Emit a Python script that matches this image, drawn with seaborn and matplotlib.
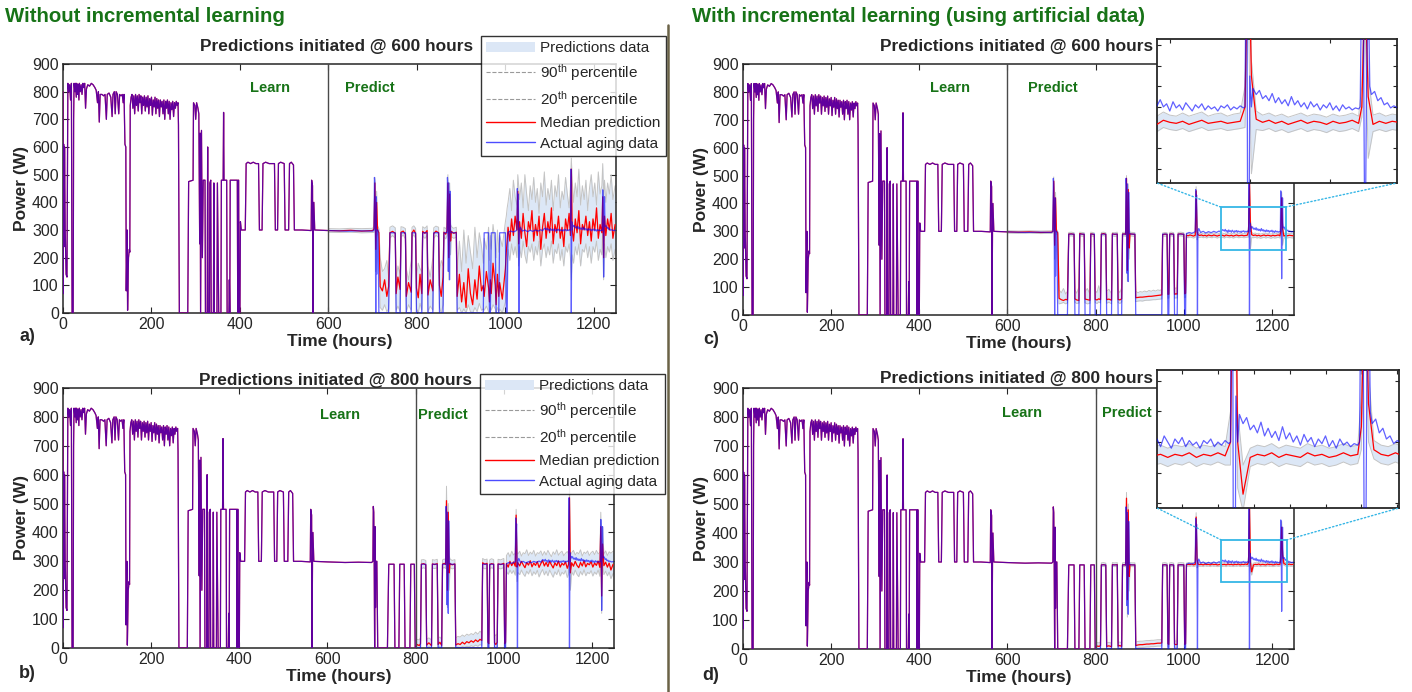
import numpy as np
import matplotlib
matplotlib.use("Agg")
import matplotlib.pyplot as plt
import seaborn as sns
from matplotlib.lines import Line2D
from matplotlib.patches import Patch, Rectangle, ConnectionPatch

# ---------------- data ----------------
# actual aging data: (hours, power W)
actual_points = [
    (0, 800), (0.5, 70), (1.5, 610), (2.5, 240), (3.5, 600), (5, 300), (7, 140), (9, 130),
    (11, 830), (13, 800), (15, 825), (17, 770), (19, 830), (20.5, 0), (23, 0), (24, 700), (25, 830),
    (27, 800), (28, 830), (30, 780), (31, 830), (33, 790), (34, 825), (36, 770), (37, 830),
    (39, 800), (41, 825), (43, 790), (45, 830), (47, 815), (49, 830), (51, 740), (53, 810),
    (56, 825), (60, 820), (64, 830), (68, 825), (72, 815), (75, 805), (78, 760), (80, 800),
    (82, 690), (84, 790), (88, 790), (92, 785), (95, 790), (98, 700), (100, 790), (104, 795),
    (108, 780), (111, 710), (113, 790), (116, 800), (118, 720), (120, 800), (123, 790),
    (126, 720), (128, 790), (131, 785), (134, 790), (136, 760), (138, 790), (140, 610),
    (142, 600), (143, 80), (145, 300), (146, 10), (148, 200), (150, 230), (151, 220),
    (152, 750), (154, 780),
    (156, 790), (158, 740), (160, 785), (162, 720), (164, 790), (166, 750), (168, 785),
    (170, 730), (172, 790), (174, 760), (176, 785), (178, 720), (180, 780), (182, 750),
    (184, 785), (186, 730), (188, 780), (190, 745), (192, 785), (194, 720), (196, 775),
    (198, 750), (200, 780), (202, 715), (204, 770), (206, 745), (208, 780), (210, 720),
    (212, 775), (214, 740), (216, 770), (218, 710), (220, 770), (222, 745), (224, 765),
    (226, 720), (228, 770), (230, 700), (232, 765), (234, 740), (236, 770), (238, 720),
    (240, 765), (242, 700), (244, 760), (246, 735), (248, 765), (250, 710), (252, 760),
    (254, 740), (256, 765), (258, 750), (260, 760), (261, 680), (263, 0), (282, 0),
    (284, 475), (294, 480), (295, 760), (298, 750), (300, 700), (302, 760), (305, 740),
    (307, 720), (309, 250), (310, 650), (311, 0), (313, 660), (315, 200), (317, 480),
    (321, 480), (322, 0), (326, 0), (327, 600), (328, 0), (331, 0), (332, 470), (334, 480),
    (335, 0), (340, 0), (341, 470), (342, 0), (348, 0), (349, 470), (352, 0), (357, 0),
    (358, 480), (362, 480), (363, 725), (364, 480), (370, 480), (371, 0), (375, 0),
    (376, 120), (377, 0), (378, 480), (388, 480), (394, 480), (395, 0), (396, 480),
    (397, 480), (398, 0), (400, 0), (401, 330), (403, 300),
    (412, 300), (414, 540), (418, 545), (424, 540), (430, 545), (436, 540), (442, 540),
    (444, 300), (450, 300), (452, 540), (458, 545), (466, 540), (478, 540), (480, 300),
    (485, 300), (487, 540), (492, 545), (500, 540), (502, 300), (510, 300), (512, 540),
    (516, 545), (521, 535), (523, 300), (540, 300), (561, 298), (562, 480), (564, 460),
    (565, 0), (566, 300), (567, 400), (569, 300), (585, 299), (600, 298),
    (640, 296), (670, 297), (700, 296), (703, 300), (704, 490), (705, 470), (706, 300),
    (707, 0), (708, 420), (709, 140), (710, 300), (712, 300), (714, 0), (736, 0),
    (739, 290), (751, 290), (753, 0), (762, 0), (764, 290), (774, 290), (776, 0), (787, 0),
    (789, 290), (797, 290), (799, 0), (811, 0), (813, 290), (823, 290), (825, 0), (836, 0),
    (838, 290), (849, 290), (851, 0), (859, 0), (861, 290), (868, 290), (869, 490),
    (870, 460), (871, 150), (872, 470), (873, 300), (874, 120), (875, 440), (876, 300),
    (878, 290), (889, 290), (891, 0), (950, 0), (952, 290), (962, 290), (964, 0), (966, 0),
    (968, 290), (977, 290), (979, 0), (985, 0), (987, 290), (1000, 290), (1002, 0),
    (1004, 0), (1006, 292), (1012, 296), (1018, 293), (1024, 297), (1026, 300),
    (1027, 450), (1028, 380), (1029, 430), (1030, 300), (1031, 0), (1032, 300),
    (1034, 310), (1038, 296), (1044, 300), (1050, 294), (1056, 299), (1062, 295),
    (1068, 300), (1074, 296), (1080, 301), (1084, 297),
    (1088, 306), (1090, 304), (1092, 301), (1094, 307), (1096, 300), (1098, 303),
    (1100, 296), (1102, 305), (1104, 299), (1106, 302), (1108, 297), (1110, 304),
    (1112, 300), (1114, 296), (1116, 302), (1118, 299), (1120, 303), (1122, 297),
    (1124, 301), (1126, 298), (1128, 300), (1130, 296), (1132, 301), (1134, 299),
    (1136, 302), (1138, 297), (1140, 300), (1142, 298), (1144, 301), (1146, 299),
    (1147, 300), (1148, 520), (1149, 0), (1150, 330), (1151, 300), (1152, 318),
    (1154, 312), (1156, 316), (1158, 308), (1160, 311), (1162, 306), (1164, 313),
    (1166, 304), (1168, 309), (1170, 303), (1172, 307), (1174, 301), (1176, 310),
    (1178, 302), (1180, 306), (1182, 300), (1184, 304), (1186, 298), (1188, 305),
    (1190, 300), (1192, 303), (1194, 297), (1196, 302), (1198, 299), (1200, 304),
    (1202, 297), (1204, 301), (1206, 296), (1208, 302), (1210, 298), (1212, 300),
    (1214, 297), (1216, 299), (1218, 298), (1219, 300), (1220, 445), (1221, 380),
    (1222, 130), (1223, 330), (1224, 420), (1225, 320), (1226, 312), (1228, 315),
    (1230, 306), (1232, 309), (1234, 302), (1236, 304), (1238, 299), (1240, 301),
    (1244, 298), (1248, 299),
]

# prediction time grids
hours_600_head = [600, 625, 650, 675, 700, 703, 705, 707, 709, 711, 714, 717]
hours_square = [722, 727, 732, 736, 739, 745, 751, 753, 757, 762, 764, 769, 774, 776, 781,
                787, 789, 793, 797, 799, 803, 807, 811, 813, 818, 823, 825, 830, 836, 838,
                843, 849, 851, 855, 859, 861, 865, 868, 870, 872, 874, 876, 878, 883, 889, 891]
hours_800_head = [800, 804, 808, 811, 813, 818, 823, 825, 830, 836, 838, 843, 849, 851, 855,
                  859, 861, 865, 868, 870, 872, 874, 876, 878, 883, 889, 891]
hours_mid = [896, 901, 906, 911, 916, 921, 926, 931, 936, 941, 946, 950, 952, 957, 962, 964,
             966, 968, 972, 977, 979, 982, 985, 987, 993, 1000, 1002, 1004]
hours_tail = [1006, 1010, 1014, 1018, 1022, 1026, 1028, 1030, 1032, 1036, 1040, 1044, 1048,
              1052, 1056, 1060, 1064, 1068, 1072, 1076, 1080, 1084, 1088, 1092, 1096, 1100,
              1104, 1108, 1112, 1116, 1120, 1124, 1128, 1132, 1136, 1140, 1144, 1147, 1149,
              1151, 1154, 1158, 1162, 1166, 1170, 1174, 1178, 1182, 1186, 1190, 1194, 1198,
              1202, 1206, 1210, 1214, 1218, 1220, 1222, 1224, 1227, 1231, 1235, 1239, 1243, 1248]
hours_600 = hours_600_head + hours_square + hours_mid + hours_tail
hours_800 = hours_800_head + hours_mid + hours_tail

# a) predictions initiated @ 600 h, without incremental learning
median_a = [298, 297, 299, 296, 298, 305, 470, 230, 400, 300, 290, 95,
            80, 120, 60, 95, 290, 295, 288, 70, 130, 85, 292, 296, 285, 60, 110, 75, 290, 300,
            287, 90, 55, 140, 70, 295, 288, 298, 65, 120, 80, 287, 296, 290, 100, 60, 130, 292,
            285, 298, 470, 200, 430, 260, 295, 288, 292, 60,
            140, 40, 110, 20, 160, 70, 30, 120, 50, 170, 80, 100, 60, 150, 90, 40, 120, 70, 180,
            100, 30, 140, 60, 110, 50, 160, 220, 260,
            310, 260, 340, 280, 350, 300, 440, 250, 330, 270, 360, 290, 240, 330, 300, 370, 260,
            320, 280, 350, 230, 310, 360, 270, 330, 290, 380, 250, 320, 290, 350, 270, 310, 240,
            340, 300, 360, 280, 520, 300, 260, 340, 290, 370, 250, 320, 300, 350, 280, 330, 260,
            340, 300, 380, 270, 320, 290, 420, 200, 350, 280, 340, 300, 360, 270, 320]
p90_a = [305, 304, 306, 305, 306, 315, 490, 300, 440, 315, 305, 200,
         150, 160, 190, 130, 310, 315, 308, 120, 170, 140, 312, 310, 305, 160, 120, 190, 310, 315,
         306, 130, 180, 160, 150, 312, 306, 315, 170, 130, 200, 308, 314, 310, 150, 190, 170, 310,
         305, 314, 500, 300, 470, 320, 312, 306, 310, 150,
         260, 150, 300, 180, 280, 220, 160, 310, 200, 290, 240, 180, 270, 230, 310, 190, 280, 230,
         320, 250, 200, 300, 220, 280, 240, 330, 350, 380,
         400, 450, 370, 480, 420, 390, 500, 460, 410, 470, 380, 500, 430, 370, 460, 410, 490, 400,
         450, 360, 470, 420, 510, 390, 450, 410, 480, 370, 460, 420, 500, 380, 440, 410, 490, 430,
         380, 460, 560, 480, 400, 470, 420, 520, 390, 460, 410, 480, 370, 450, 500, 420, 470, 390,
         510, 430, 460, 540, 420, 480, 400, 470, 430, 500, 410, 460]
p20_a = [292, 291, 292, 290, 291, 292, 440, 150, 350, 285, 270, 20,
         10, 30, 5, 15, 272, 280, 270, 10, 25, 5, 275, 282, 268, 5, 30, 10, 274, 283, 270, 15, 0,
         35, 10, 278, 270, 280, 5, 25, 10, 270, 281, 273, 20, 0, 30, 275, 268, 280, 440, 120, 390,
         210, 276, 270, 274, 10,
         20, 0, 15, 0, 30, 5, 0, 20, 5, 35, 10, 15, 10, 25, 5, 0, 20, 10, 30, 15, 0, 20, 5, 15, 0,
         40, 100, 160,
         230, 190, 250, 210, 240, 200, 330, 170, 240, 200, 260, 210, 180, 240, 220, 250, 190, 240,
         210, 260, 170, 230, 250, 200, 240, 210, 260, 180, 230, 215, 250, 190, 230, 170, 240, 220,
         250, 200, 120, 210, 180, 240, 210, 250, 170, 230, 220, 250, 200, 240, 180, 240, 220, 260,
         190, 230, 210, 300, 120, 250, 200, 240, 220, 250, 190, 230]

# b) predictions initiated @ 800 h, without incremental learning
median_b = [5, 12, 8, 15, 290, 292, 288, 10, 18, 8, 291, 289, 292, 12, 20, 9, 290, 293, 289, 510,
            200, 470, 260, 292, 288, 291, 10,
            15, 12, 20, 14, 22, 18, 25, 20, 28, 22, 30, 26, 295, 290, 293, 20, 15, 288, 292, 290,
            18, 12, 20, 291, 289, 293, 15, 20,
            292, 280, 300, 285, 298, 283, 460, 280, 295, 284, 300, 288, 278, 296, 287, 302, 281,
            294, 286, 299, 279, 292, 303, 284, 296, 282, 300, 288, 277, 295, 285, 301, 280, 293,
            287, 298, 276, 290, 520, 260, 295, 283, 300, 286, 278, 296, 284, 302, 281, 293, 288,
            299, 280, 294, 286, 301, 279, 420, 180, 360, 285, 297, 280, 294, 270, 290]
p90_b = [25, 30, 28, 35, 305, 306, 303, 30, 35, 28, 306, 304, 307, 32, 38, 30, 305, 308, 304, 560,
         300, 500, 320, 308, 303, 306, 35,
         40, 38, 45, 40, 48, 44, 50, 46, 55, 48, 58, 52, 310, 305, 308, 50, 45, 305, 309, 306, 48,
         42, 50, 307, 305, 310, 45, 50,
         320, 330, 315, 335, 322, 328, 480, 330, 325, 335, 318, 330, 326, 340, 320, 332, 325, 338,
         318, 330, 327, 336, 320, 334, 322, 338, 326, 316, 333, 324, 340, 321, 330, 335, 319, 328,
         334, 325, 560, 320, 330, 338, 322, 331, 326, 340, 318, 332, 327, 336, 320, 330, 335, 323,
         338, 326, 331, 470, 300, 420, 325, 336, 320, 333, 328, 335]
p20_b = [0, 2, 0, 3, 275, 278, 274, 0, 4, 0, 277, 275, 278, 2, 5, 0, 276, 279, 275, 470, 140, 420,
         200, 278, 274, 277, 2,
         3, 0, 5, 2, 6, 4, 8, 5, 10, 6, 12, 9, 278, 274, 277, 5, 2, 274, 278, 275, 4, 0, 5, 276,
         274, 279, 2, 6,
         265, 255, 270, 258, 268, 252, 400, 230, 262, 254, 270, 257, 248, 266, 256, 272, 250, 264,
         255, 269, 246, 261, 272, 253, 266, 250, 270, 257, 245, 264, 254, 271, 249, 262, 256, 268,
         244, 258, 420, 200, 264, 252, 270, 255, 247, 265, 253, 271, 250, 262, 257, 268, 249, 263,
         255, 270, 248, 360, 120, 300, 254, 266, 250, 263, 240, 258]

# c) predictions initiated @ 600 h, with incremental learning
median_c = [298, 297, 298, 296, 297, 300, 480, 250, 420, 300, 295, 60,
            55, 52, 56, 54, 290, 291, 289, 58, 54, 52, 292, 290, 289, 57, 55, 53, 291, 290, 288,
            56, 54, 58, 55, 290, 292, 289, 55, 57, 53, 291, 289, 290, 56, 54, 58, 290, 291, 289,
            490, 160, 450, 240, 291, 290, 289, 62,
            63, 64, 64, 65, 66, 67, 67, 68, 69, 70, 71, 72, 288, 290, 289, 74, 75, 290, 291, 289,
            74, 76, 75, 290, 291, 289, 76, 78,
            286, 284, 287, 285, 283, 286, 445, 300, 288, 285, 287, 284, 286, 283, 287, 285, 284,
            287, 285, 283, 286, 285, 286, 283, 287, 285, 284, 286, 283, 285, 287, 284, 285, 286,
            284, 285, 286, 300, 480, 330, 288, 285, 287, 284, 286, 283, 285, 287, 284, 286, 285,
            283, 286, 284, 285, 287, 284, 300, 420, 310, 283, 286, 284, 286, 285, 284]
p90_c = [302, 301, 302, 301, 302, 306, 495, 290, 440, 308, 300, 90,
         80, 95, 75, 85, 296, 297, 295, 90, 78, 100, 297, 296, 295, 82, 95, 76, 297, 296, 294, 88,
         80, 105, 78, 296, 297, 295, 85, 92, 77, 296, 295, 297, 90, 80, 98, 296, 297, 295, 500,
         300, 470, 310, 297, 296, 295, 85,
         80, 84, 82, 86, 83, 88, 85, 89, 86, 90, 88, 92, 294, 296, 295, 95, 96, 296, 297, 295, 94,
         97, 96, 296, 297, 295, 97, 99,
         293, 291, 294, 292, 290, 293, 460, 330, 296, 292, 294, 291, 293, 290, 294, 292, 291, 294,
         292, 290, 293, 292, 294, 291, 295, 292, 291, 294, 291, 293, 295, 291, 293, 294, 291, 293,
         294, 320, 500, 345, 296, 292, 294, 291, 293, 290, 292, 294, 291, 293, 292, 290, 293, 291,
         292, 294, 291, 320, 440, 330, 292, 294, 291, 293, 292, 291]
p20_c = [294, 293, 294, 292, 293, 295, 460, 200, 390, 290, 288, 40,
         42, 45, 40, 44, 283, 284, 282, 46, 41, 43, 284, 283, 282, 44, 40, 42, 284, 283, 281, 45,
         41, 47, 43, 283, 285, 282, 42, 46, 40, 284, 282, 283, 45, 41, 47, 283, 284, 282, 470,
         120, 420, 200, 284, 283, 282, 48,
         50, 51, 50, 52, 53, 53, 54, 55, 55, 56, 57, 58, 282, 283, 282, 60, 61, 283, 284, 282, 60,
         62, 61, 283, 284, 282, 62, 64,
         279, 277, 280, 278, 276, 279, 420, 270, 280, 278, 280, 277, 279, 276, 280, 278, 277, 280,
         278, 276, 279, 278, 279, 276, 280, 278, 277, 279, 276, 278, 280, 277, 278, 279, 277, 278,
         279, 280, 400, 235, 278, 277, 279, 276, 278, 275, 277, 279, 276, 278, 277, 275, 278, 276,
         277, 279, 276, 290, 380, 250, 276, 278, 276, 278, 277, 276]

# d) predictions initiated @ 800 h, with incremental learning
median_d = [8, 10, 9, 12, 290, 291, 289, 9, 11, 8, 291, 290, 291, 10, 12, 9, 290, 291, 289, 520,
            170, 480, 250, 291, 290, 290, 12,
            14, 15, 15, 16, 17, 17, 18, 18, 19, 20, 20, 21, 290, 291, 289, 18, 16, 290, 291, 289,
            17, 15, 16, 290, 291, 290, 16, 18,
            290, 292, 291, 293, 290, 292, 455, 310, 293, 291, 292, 290, 293, 291, 292, 290, 293,
            291, 292, 290, 291, 293, 291, 292, 290, 293, 291, 292, 290, 292, 291, 293, 290, 292,
            291, 293, 291, 300, 500, 300, 266, 290, 292, 291, 293, 290, 292, 291, 290, 293, 291,
            292, 290, 291, 293, 291, 292, 310, 420, 325, 295, 292, 291, 293, 291, 292]
p90_d = [20, 22, 21, 24, 297, 298, 296, 21, 23, 20, 298, 297, 298, 22, 24, 21, 297, 298, 296, 540,
         260, 500, 300, 298, 297, 297, 24,
         26, 27, 27, 28, 29, 29, 30, 30, 31, 32, 32, 33, 297, 298, 296, 30, 28, 297, 298, 296, 29,
         27, 28, 297, 298, 297, 28, 30,
         296, 298, 297, 299, 296, 298, 470, 330, 299, 297, 298, 296, 299, 297, 298, 296, 299, 297,
         298, 296, 297, 299, 297, 298, 296, 299, 297, 298, 296, 298, 297, 299, 296, 298, 297, 299,
         297, 320, 520, 320, 285, 296, 298, 297, 299, 296, 298, 297, 296, 299, 297, 298, 296, 297,
         299, 297, 298, 330, 440, 345, 301, 298, 297, 299, 297, 298]
p20_d = [0, 1, 0, 2, 284, 285, 283, 0, 2, 0, 285, 284, 285, 1, 3, 0, 284, 285, 283, 480, 110, 440,
         200, 285, 284, 284, 2,
         4, 5, 5, 6, 7, 7, 8, 8, 9, 10, 10, 11, 284, 285, 283, 8, 6, 284, 285, 283, 7, 5, 6, 284,
         285, 284, 6, 8,
         284, 286, 285, 287, 284, 286, 430, 280, 287, 285, 286, 284, 287, 285, 286, 284, 287, 285,
         286, 284, 285, 287, 285, 286, 284, 287, 285, 286, 284, 286, 285, 287, 284, 286, 285, 287,
         285, 285, 460, 270, 255, 284, 286, 285, 287, 284, 286, 285, 284, 287, 285, 286, 284, 285,
         287, 285, 286, 295, 390, 300, 289, 286, 285, 287, 285, 286]

legend_labels = ["Predictions data", "90$^{\\rm th}$ percentile", "20$^{\\rm th}$ percentile",
                 "Median prediction", "Actual aging data"]

# ---------------- style ----------------
sns.set_theme(style="ticks")
plt.rcParams["font.family"] = ["Liberation Sans", "DejaVu Sans"]
plt.rcParams["mathtext.fontset"] = "custom"
plt.rcParams["mathtext.rm"] = "Liberation Sans"
plt.rcParams["mathtext.it"] = "Liberation Sans:italic"
plt.rcParams["mathtext.bf"] = "Liberation Sans:bold"

W, H = 1412, 692
GREEN = "#177317"
BAND = "#dce7f6"
GREY = "#c4c4c4"
CYAN = "#35b6e6"
AXC = "#262626"

act = np.array(actual_points, dtype=float)
act_t, act_p = act[:, 0], act[:, 1]

fig = plt.figure(figsize=(W / 100, H / 100), dpi=100)


def box(l, t, r, b):
    return [l / W, 1 - b / H, (r - l) / W, (b - t) / H]


def draw_series(ax, t0, hours, med, hi, lo):
    ax.fill_between(hours, lo, hi, color=BAND, lw=0, zorder=1)
    for q in (hi, lo):
        sns.lineplot(x=hours, y=q, color=GREY, lw=0.7, estimator=None, sort=False, ax=ax, zorder=2)
    learn = act_t <= t0
    sns.lineplot(x=act_t[learn], y=act_p[learn], color="red", lw=0.9,
                 estimator=None, sort=False, ax=ax, zorder=3)
    sns.lineplot(x=hours, y=med, color="red", lw=0.9, estimator=None, sort=False, ax=ax, zorder=3)
    sns.lineplot(x=act_t, y=act_p, color="blue", lw=0.9, alpha=0.62,
                 estimator=None, sort=False, ax=ax, zorder=4)


def style_spines(ax, lw=1.1):
    for s in ax.spines.values():
        s.set_linewidth(lw)
        s.set_color(AXC)


def main_panel(rect, t0, hours, med, hi, lo):
    ax = fig.add_axes(box(*rect))
    draw_series(ax, t0, hours, med, hi, lo)
    ax.axvline(t0, color="#4a4a4a", lw=1.0, zorder=5)
    ax.set_xlim(0, 1250)
    ax.set_ylim(0, 900)
    ax.set_xticks(range(0, 1201, 200))
    ax.set_yticks(range(0, 901, 100))
    ax.tick_params(direction="in", top=True, right=True, labelsize=11.5, length=4, width=0.8,
                   pad=3, colors=AXC)
    ax.set_xlabel("Time (hours)", fontsize=12.5, fontweight="bold", color=AXC, labelpad=1)
    ax.set_ylabel("Power (W)", fontsize=12.5, fontweight="bold", color=AXC, labelpad=2)
    style_spines(ax)
    return ax


def inset_panel(ax, rect, zoom, xlim, ylim, xticks, yticks, t0, hours, med, hi, lo):
    ins = fig.add_axes(box(*rect))
    ins.set_facecolor("white")
    draw_series(ins, t0, hours, med, hi, lo)
    ins.set_xlim(*xlim)
    ins.set_ylim(*ylim)
    ins.set_xticks(xticks)
    ins.set_yticks(yticks)
    ins.set_xticklabels([])
    ins.set_yticklabels([])
    ins.set_xlabel("")
    ins.set_ylabel("")
    ins.tick_params(direction="in", top=True, right=True, length=3, width=0.8, colors=AXC)
    style_spines(ins, 1.3)
    x0, y0, x1, y1 = zoom
    ax.add_patch(Rectangle((x0, y0), x1 - x0, y1 - y0, fill=False, ec=CYAN, lw=1.3, zorder=6))
    for xa, xb in ((x0, 0), (x1, 1)):
        con = ConnectionPatch(xyA=(xa, y1), coordsA=ax.transData, xyB=(xb, 0),
                              coordsB=ins.transAxes, color=CYAN, lw=1.0, ls=":")
        fig.add_artist(con)
    return ins


ax_a = main_panel((63, 64, 616, 313), 600, hours_600, median_a, p90_a, p20_a)
ax_b = main_panel((63, 388, 614, 648), 800, hours_800, median_b, p90_b, p20_b)
ax_c = main_panel((743, 64, 1294, 315), 600, hours_600, median_c, p90_c, p20_c)
ax_d = main_panel((743, 388, 1294, 649), 800, hours_800, median_d, p90_d, p20_d)

inset_panel(ax_c, (1157, 39, 1397, 183), (1084, 233, 1231, 387), (1092, 1242), (226, 366),
            [1100, 1150, 1200], range(240, 361, 20), 600, hours_600, median_c, p90_c, p20_c)
inset_panel(ax_d, (1157, 370, 1399, 508), (1085, 231, 1233, 376), (1106, 1241), (257, 347),
            range(1120, 1241, 20), range(260, 341, 20), 800, hours_800, median_d, p90_d, p20_d)

# legends (panels a and b)
handles = [Patch(facecolor=BAND, edgecolor="none"),
           Line2D([], [], color="#9a9a9a", ls="--", lw=0.8),
           Line2D([], [], color="#9a9a9a", ls="--", lw=0.8),
           Line2D([], [], color="red", lw=1.0),
           Line2D([], [], color="blue", lw=1.0, alpha=0.7)]
for (lx, ly) in ((481, 36), (480, 374)):
    leg = fig.legend(handles, legend_labels, loc="upper left", bbox_to_anchor=(lx / W, 1 - ly / H),
                     frameon=True, fancybox=False, edgecolor="black", fontsize=11,
                     borderpad=0.35, labelspacing=0.42, handlelength=3.2, handletextpad=0.3,
                     borderaxespad=0)
    leg.get_frame().set_linewidth(1.0)
    leg.set_zorder(10)

# headings and annotations
fig.text(5 / W, 1 - 17 / H, "Without incremental learning", color=GREEN, fontsize=14.7,
         fontweight="bold", ha="left", va="center")
fig.text(692 / W, 1 - 17 / H, "With incremental learning (using artificial data)", color=GREEN,
         fontsize=14.7, fontweight="bold", ha="left", va="center")
for (x, y, s) in ((473, 47, "Predictions initiated @ 600 hours"),
                  (472, 381, "Predictions initiated @ 800 hours"),
                  (1153, 47, "Predictions initiated @ 600 hours"),
                  (1153, 378, "Predictions initiated @ 800 hours")):
    fig.text(x / W, 1 - y / H, s, fontsize=12.4, fontweight="bold", color=AXC, ha="right", va="center")
for (x, y, s) in ((270, 88, "Learn"), (370, 88, "Predict"), (340, 415, "Learn"), (443, 415, "Predict"),
                  (950, 88, "Learn"), (1053, 88, "Predict"), (1022, 413, "Learn"), (1127, 413, "Predict")):
    fig.text(x / W, 1 - y / H, s, fontsize=10.5, fontweight="bold", color=GREEN, ha="center", va="center")
for (x, y, s) in ((27, 337, "a)"), (27, 673, "b)"), (711, 339, "c)"), (711, 676, "d)")):
    fig.text(x / W, 1 - y / H, s, fontsize=13, fontweight="bold", color=AXC, ha="center", va="center")

# separator between the two halves
fig.add_artist(Line2D([668 / W, 668 / W], [1 - 25 / H, 0], transform=fig.transFigure,
                      color="#6b6347", lw=1.8))

fig.savefig("out.png", dpi=100)
